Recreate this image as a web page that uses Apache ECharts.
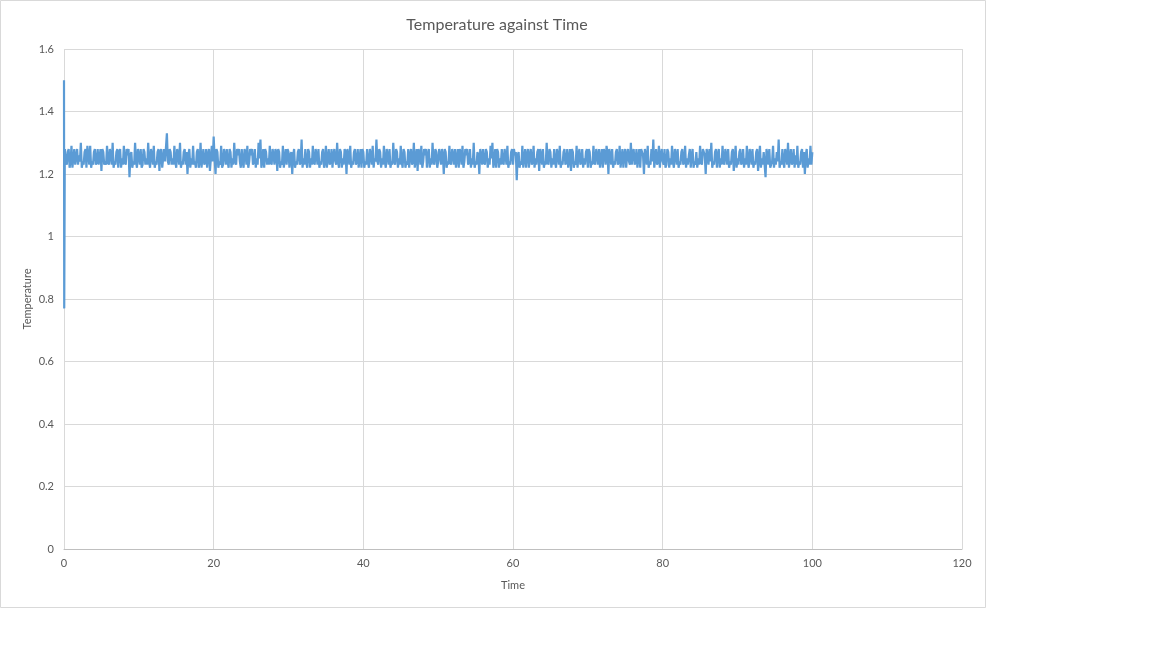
<!DOCTYPE html>
<html lang="en">
<head>
    <meta charset="UTF-8">
    <title>Temperature against Time</title>
    <script src="https://cdn.jsdelivr.net/npm/echarts@6/dist/echarts.min.js"></script>
    <style>
        html, body { margin: 0; padding: 0; background: #fff; }
        #main { width: 1152px; height: 648px; }
    </style>
</head>
<body>
    <div id="main"></div>
    <script>
        // first points: the start spike and drop
        var startTime = [0, 0.03, 0.1];
        var startTemp = [1.5, 0.77, 1.23];

        // after that, one reading every 0.125 time units, 0.125 .. 100
        var timeStep = 0.125;
        var temperature = [
            // 0 - 10
            1.28,1.24,1.23,1.27,1.28,1.22,1.24,1.29,1.22,1.25,1.28,1.23,1.23,1.28,1.23,1.26,1.24,1.30,1.22,1.24,
            1.23,1.27,1.28,1.22,1.29,1.26,1.23,1.29,1.22,1.24,1.23,1.27,1.28,1.23,1.24,1.28,1.23,1.25,1.28,1.21,
            1.28,1.27,1.23,1.24,1.23,1.29,1.24,1.23,1.28,1.26,1.23,1.30,1.22,1.24,1.23,1.27,1.28,1.22,1.27,1.28,
            1.22,1.25,1.23,1.29,1.24,1.23,1.28,1.26,1.28,1.19,1.26,1.27,1.22,1.24,1.23,1.30,1.24,1.22,1.28,1.26,
            // 10 - 20
            1.23,1.28,1.22,1.23,1.28,1.27,1.23,1.25,1.23,1.30,1.24,1.22,1.28,1.26,1.23,1.29,1.22,1.24,1.23,1.27,
            1.28,1.21,1.27,1.28,1.22,1.25,1.28,1.24,1.24,1.33,1.24,1.23,1.28,1.27,1.23,1.25,1.23,1.29,1.24,1.22,
            1.28,1.26,1.23,1.30,1.22,1.24,1.23,1.27,1.28,1.23,1.27,1.20,1.26,1.28,1.22,1.25,1.23,1.29,1.23,1.24,
            1.22,1.27,1.28,1.22,1.24,1.30,1.22,1.25,1.28,1.23,1.24,1.28,1.22,1.26,1.28,1.21,1.25,1.29,1.24,1.32,
            // 20 - 30
            1.25,1.20,1.28,1.27,1.22,1.24,1.23,1.29,1.22,1.23,1.28,1.26,1.23,1.28,1.24,1.22,1.28,1.27,1.22,1.25,
            1.23,1.30,1.24,1.23,1.28,1.26,1.28,1.24,1.22,1.28,1.24,1.22,1.28,1.27,1.23,1.29,1.22,1.24,1.28,1.26,
            1.28,1.23,1.24,1.28,1.22,1.25,1.23,1.30,1.25,1.31,1.22,1.24,1.28,1.22,1.28,1.27,1.23,1.25,1.23,1.29,
            1.24,1.23,1.28,1.26,1.23,1.28,1.27,1.21,1.28,1.27,1.22,1.24,1.23,1.29,1.22,1.25,1.28,1.23,1.28,1.27,
            // 30 - 40
            1.22,1.26,1.27,1.20,1.26,1.28,1.22,1.24,1.23,1.27,1.28,1.23,1.24,1.31,1.22,1.25,1.23,1.28,1.24,1.22,
            1.28,1.27,1.22,1.25,1.23,1.29,1.24,1.23,1.28,1.26,1.23,1.28,1.22,1.24,1.23,1.27,1.28,1.22,1.24,1.29,
            1.22,1.25,1.28,1.23,1.24,1.28,1.22,1.26,1.28,1.24,1.23,1.30,1.24,1.22,1.28,1.27,1.22,1.25,1.23,1.28,
            1.27,1.20,1.28,1.26,1.23,1.29,1.22,1.24,1.23,1.27,1.28,1.23,1.24,1.28,1.22,1.25,1.28,1.22,1.28,1.27,
            // 40 - 50
            1.22,1.24,1.23,1.28,1.24,1.22,1.28,1.26,1.23,1.29,1.22,1.25,1.24,1.31,1.24,1.23,1.28,1.27,1.22,1.25,
            1.23,1.29,1.24,1.22,1.28,1.26,1.23,1.28,1.22,1.24,1.23,1.30,1.24,1.23,1.28,1.27,1.22,1.25,1.23,1.29,
            1.24,1.22,1.28,1.27,1.22,1.24,1.23,1.28,1.22,1.26,1.28,1.23,1.24,1.30,1.22,1.25,1.28,1.21,1.28,1.27,
            1.23,1.29,1.22,1.24,1.28,1.26,1.28,1.22,1.26,1.28,1.22,1.25,1.23,1.30,1.24,1.23,1.28,1.27,1.22,1.24,
            // 50 - 60
            1.28,1.26,1.23,1.28,1.26,1.20,1.28,1.27,1.22,1.24,1.23,1.29,1.24,1.23,1.28,1.26,1.23,1.28,1.22,1.25,
            1.28,1.22,1.28,1.27,1.23,1.29,1.22,1.24,1.28,1.26,1.28,1.23,1.24,1.28,1.22,1.25,1.23,1.30,1.22,1.24,
            1.23,1.27,1.26,1.20,1.28,1.26,1.23,1.28,1.24,1.23,1.28,1.27,1.22,1.25,1.23,1.29,1.25,1.30,1.22,1.24,
            1.28,1.22,1.28,1.27,1.22,1.25,1.23,1.28,1.24,1.23,1.28,1.26,1.23,1.29,1.22,1.24,1.23,1.27,1.28,1.23,
            // 60 - 70
            1.28,1.26,1.27,1.18,1.26,1.27,1.22,1.24,1.23,1.29,1.22,1.25,1.28,1.22,1.26,1.28,1.22,1.26,1.28,1.23,
            1.24,1.29,1.22,1.25,1.23,1.27,1.28,1.21,1.28,1.26,1.23,1.28,1.22,1.24,1.23,1.30,1.24,1.23,1.28,1.27,
            1.22,1.25,1.23,1.28,1.24,1.22,1.28,1.26,1.23,1.29,1.22,1.24,1.23,1.27,1.28,1.23,1.24,1.28,1.22,1.25,
            1.28,1.21,1.28,1.27,1.22,1.24,1.23,1.29,1.22,1.26,1.28,1.23,1.24,1.28,1.22,1.25,1.23,1.27,1.28,1.22,
            // 70 - 80
            1.28,1.27,1.22,1.24,1.23,1.29,1.24,1.23,1.28,1.26,1.23,1.28,1.22,1.25,1.28,1.22,1.28,1.27,1.23,1.29,
            1.27,1.20,1.28,1.26,1.23,1.28,1.22,1.24,1.23,1.27,1.28,1.23,1.24,1.29,1.22,1.25,1.28,1.22,1.26,1.28,
            1.22,1.26,1.28,1.24,1.23,1.30,1.23,1.27,1.28,1.23,1.24,1.28,1.22,1.25,1.28,1.22,1.28,1.27,1.26,1.20,
            1.28,1.26,1.23,1.29,1.22,1.24,1.23,1.28,1.24,1.31,1.22,1.25,1.28,1.23,1.24,1.29,1.22,1.26,1.28,1.24,
            // 80 - 90
            1.23,1.28,1.22,1.23,1.28,1.27,1.22,1.25,1.23,1.29,1.24,1.22,1.28,1.26,1.23,1.28,1.22,1.24,1.23,1.27,
            1.28,1.23,1.24,1.29,1.22,1.25,1.23,1.26,1.28,1.22,1.26,1.28,1.22,1.24,1.23,1.27,1.22,1.25,1.23,1.29,
            1.24,1.23,1.28,1.27,1.26,1.20,1.28,1.26,1.23,1.28,1.24,1.30,1.22,1.24,1.23,1.27,1.28,1.22,1.26,1.28,
            1.22,1.25,1.23,1.29,1.24,1.23,1.28,1.26,1.23,1.28,1.22,1.24,1.23,1.27,1.28,1.21,1.25,1.29,1.22,1.25,
            // 90 - 100
            1.23,1.27,1.28,1.23,1.24,1.28,1.22,1.25,1.23,1.29,1.24,1.22,1.28,1.26,1.23,1.28,1.22,1.24,1.23,1.27,
            1.28,1.21,1.25,1.29,1.22,1.25,1.23,1.27,1.27,1.19,1.28,1.26,1.23,1.28,1.22,1.23,1.24,1.29,1.22,1.25,
            1.23,1.27,1.24,1.31,1.22,1.24,1.23,1.28,1.24,1.22,1.28,1.26,1.23,1.30,1.22,1.25,1.28,1.23,1.24,1.28,
            1.22,1.26,1.23,1.29,1.22,1.24,1.23,1.27,1.28,1.22,1.27,1.20,1.26,1.28,1.22,1.25,1.23,1.29,1.23,1.27
        ];

        var xTicks = { min: 0, max: 120, interval: 20 };
        var yTicks = { min: 0, max: 1.6, interval: 0.2 };

        var points = [];
        for (var i = 0; i < startTime.length; i++) {
            points.push([startTime[i], startTemp[i]]);
        }
        for (var j = 0; j < temperature.length; j++) {
            points.push([(j + 1) * timeStep, temperature[j]]);
        }

        var font = 'Lato, "Open Sans", sans-serif';
        var option = {
            animation: false,
            backgroundColor: '#fff',
            title: {
                text: 'Temperature against Time',
                left: 492,
                top: 12,
                textAlign: 'center',
                textStyle: { color: '#595959', fontSize: 16, fontWeight: 'normal', fontFamily: font }
            },
            graphic: [{
                type: 'rect',
                shape: { x: 0.5, y: 0.5, width: 985, height: 607 },
                style: { fill: 'none', stroke: '#d9d9d9', lineWidth: 1 },
                z: -1
            }],
            grid: { left: 64, top: 49, width: 898, height: 500 },
            xAxis: {
                type: 'value',
                min: xTicks.min, max: xTicks.max, interval: xTicks.interval,
                name: 'Time',
                nameLocation: 'middle',
                nameGap: 31,
                nameMoveOverlap: false,
                nameTextStyle: { color: '#595959', fontSize: 11, fontFamily: font },
                axisLine: { lineStyle: { color: '#bfbfbf' } },
                axisTick: { show: false },
                axisLabel: { color: '#595959', fontSize: 11, margin: 9, fontFamily: font },
                splitLine: { show: true, lineStyle: { color: '#d9d9d9' } }
            },
            yAxis: {
                type: 'value',
                min: yTicks.min, max: yTicks.max, interval: yTicks.interval,
                name: 'Temperature',
                nameLocation: 'middle',
                nameGap: 31,
                nameMoveOverlap: false,
                nameTextStyle: { color: '#595959', fontSize: 11, fontFamily: font },
                axisLine: { show: false },
                axisTick: { show: false },
                axisLabel: { color: '#595959', fontSize: 11, margin: 10, fontFamily: font },
                splitLine: { lineStyle: { color: '#d9d9d9' } }
            },
            series: [{
                type: 'line',
                data: points,
                showSymbol: false,
                lineStyle: { color: '#5b9bd5', width: 2.2 },
                itemStyle: { color: '#5b9bd5' }
            }]
        };

        var chart = echarts.init(document.getElementById('main'));
        chart.setOption(option);
    </script>
</body>
</html>
